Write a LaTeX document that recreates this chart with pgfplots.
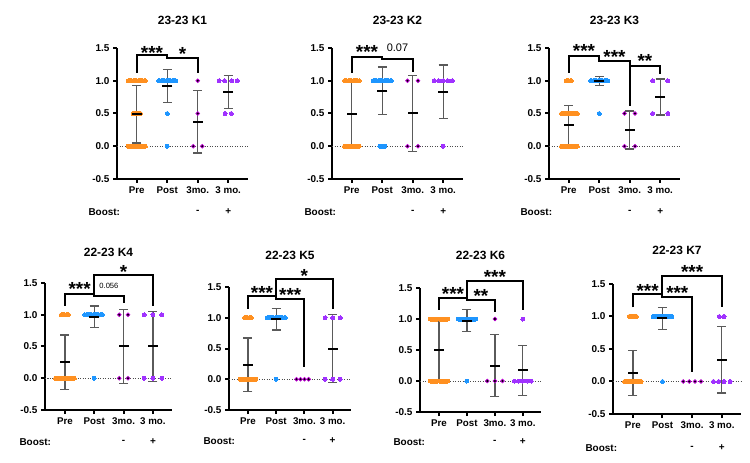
\documentclass[border=0pt]{standalone}
\usepackage{pgfplots}
\pgfplotsset{compat=1.18}
\usepackage{fontspec}
\setmainfont{Liberation Sans}
\definecolor{preC}{HTML}{FF9020}
\definecolor{postC}{HTML}{1E96FF}
\definecolor{mEdge}{HTML}{C000D8}
\definecolor{boostC}{HTML}{A032FF}
\definecolor{errC}{HTML}{5A5A5A}
\pgfplotsset{
 panel/.style={scale only axis, clip=false, ymin=-0.5, ymax=1.5, xmin=-0.65, xmax=3.65,
   ytick={-0.5,0,0.5,1,1.5}, xtick={0,1,2,3}, xticklabels={Pre,Post,3mo.,3 mo.},
   axis lines=left, axis line style={-, line width=2bp},
   tick align=outside, major tick length=4bp, tick style={line width=2bp, black},
   every tick label/.append style={font=\bfseries\fontsize{10}{10}\selectfont},
   xticklabel style={font=\bfseries\fontsize{9.8}{10}\selectfont},
   yticklabel style={/pgf/number format/.cd, fixed, fixed zerofill, precision=1, assume math mode=true},
 },
 pre/.style={only marks, color=preC, mark=*, mark size=2bp, mark options={draw=preC, fill=preC, line width=0pt}},
 post/.style={only marks, color=postC, mark=*, mark size=2bp, mark options={draw=postC, fill=postC, line width=0pt}},
 m3/.style={only marks, color=black, mark=*, mark size=1.9bp, mark options={draw=mEdge, fill=black, line width=0.7bp}},
 b3/.style={only marks, color=boostC, mark=*, mark size=2bp, mark options={draw=boostC, fill=boostC, line width=0pt}},
 meanbar/.style={only marks, color=black, mark=-, mark size=5bp, mark options={black, line width=2bp},
   error bars/.cd, y dir=both, y explicit, error mark=-,
   error mark options={rotate=90, mark size=4.5bp, line width=1.3bp, color=errC},
   error bar style={line width=1.3bp, color=errC}},
}
\tikzset{
 star/.style={font=\bfseries\fontsize{19}{19}\selectfont, inner sep=0, anchor=base, yshift=-10.5bp},
 brk/.style={line width=2bp, black},
}
\newcommand{\ptitle}[2]{\node[font=\bfseries\fontsize{12}{12}\selectfont, yshift=#2] at (rel axis cs:0.5,1) {#1};}
\newcommand{\zeroline}{\draw[line width=1bp, dash pattern=on 1.2bp off 1.3bp, black!70] (rel axis cs:0,0.25) -- (rel axis cs:1,0.25);}
\newcommand{\boostrow}[2]{%
 \node[anchor=west, font=\bfseries\fontsize{10}{10}\selectfont, xshift=#1, yshift=#2] at (rel axis cs:0,0) {Boost:};
 \node[font=\bfseries\fontsize{10}{10}\selectfont, yshift=#2] at (axis cs:2,-0.5) {-};
 \node[font=\bfseries\fontsize{10}{10}\selectfont, yshift=#2] at (axis cs:3,-0.5) {+};}
\begin{document}
\begin{tikzpicture}
\useasboundingbox (0,0) rectangle (750bp,463bp);
% ---------------- K1
\begin{axis}[panel, at={(117bp,284bp)}, anchor=south west, width=131bp, height=131bp]
\zeroline
\addplot[pre] coordinates {(-0.28,1)(-0.24,1)(-0.2,1)(-0.16,1)(-0.12,1)(-0.08,1)(-0.04,1)(0,1)(0.04,1)(0.08,1)(0.12,1)(0.16,1)(0.2,1)(0.24,1)(0.28,1)
(-0.12,0.5)(-0.08,0.5)(-0.04,0.5)(0,0.5)(0.04,0.5)(0.08,0.5)(0.12,0.5)
(-0.28,0)(-0.24,0)(-0.2,0)(-0.16,0)(-0.12,0)(-0.08,0)(-0.04,0)(0,0)(0.04,0)(0.08,0)(0.12,0)(0.16,0)(0.2,0)(0.24,0)(0.28,0)};
\addplot[post] coordinates {(0.72,1)(0.76,1)(0.8,1)(0.84,1)(0.88,1)(0.92,1)(0.96,1)(1,1)(1.04,1)(1.08,1)(1.12,1)(1.16,1)(1.2,1)(1.24,1)(1.28,1)(1,0.5)(1,0)};
\addplot[m3] coordinates {(2,1)(2,0.5)(1.85,0)(2.15,0)};
\addplot[b3] coordinates {(2.7,1)(2.88,1)(3.12,1)(3.3,1)(2.9,0.5)(3.1,0.5)};
\addplot[meanbar] coordinates {(0,0.49) +- (0,0.44) (1,0.92) +- (0,0.25) (2,0.375) +- (0,0.48) (3,0.83) +- (0,0.25)};
\draw[brk] (axis cs:0,1.12) |- (axis cs:1,1.39) -- (axis cs:1,1.35) -| (axis cs:2,1.12);
\node[star] at (axis cs:0.5,1.49) {***};
\node[star] at (axis cs:1.5,1.47) {*};
\ptitle{23-23 K1}{28bp}
\boostrow{-32bp}{-33bp}
\end{axis}
% ---------------- K2
\begin{axis}[panel, at={(332bp,284bp)}, anchor=south west, width=131bp, height=131bp]
\zeroline
\addplot[pre] coordinates {(-0.24,1)(-0.2,1)(-0.16,1)(-0.12,1)(-0.08,1)(-0.04,1)(0,1)(0.04,1)(0.08,1)(0.12,1)(0.16,1)(0.2,1)(0.24,1)
(-0.24,0)(-0.2,0)(-0.16,0)(-0.12,0)(-0.08,0)(-0.04,0)(0,0)(0.04,0)(0.08,0)(0.12,0)(0.16,0)(0.2,0)(0.24,0)};
\addplot[post] coordinates {(0.7,1)(0.74,1)(0.78,1)(0.82,1)(0.86,1)(0.9,1)(0.94,1)(0.98,1)(1.02,1)(1.06,1)(1.1,1)(1.14,1)(1.18,1)(1.22,1)(1.26,1)(1.3,1)
(0.92,0)(0.96,0)(1,0)(1.04,0)(1.08,0)};
\addplot[m3] coordinates {(1.83,1)(2.17,1)(1.83,0)(2.17,0)};
\addplot[b3] coordinates {(2.7,1)(2.85,1)(3,1)(3.15,1)(3.3,1)(3,0)};
\addplot[meanbar] coordinates {(0,0.49) +- (0,0.5) (1,0.845) +- (0,0.365) (2,0.5) +- (0,0.58) (3,0.83) +- (0,0.41)};
\draw[brk] (axis cs:0,1.12) |- (axis cs:1,1.37) -- (axis cs:1,1.33) -| (axis cs:2,1.14);
\node[star] at (axis cs:0.5,1.5) {***};
\node[font=\fontsize{11}{11}\selectfont] at (axis cs:1.5,1.5) {0.07};
\ptitle{23-23 K2}{28bp}
\boostrow{-31bp}{-33bp}
\end{axis}
% ---------------- K3
\begin{axis}[panel, at={(549bp,284bp)}, anchor=south west, width=131bp, height=131bp]
\zeroline
\addplot[pre] coordinates {(-0.08,1)(-0.04,1)(0,1)(0.04,1)(0.08,1)
(-0.24,0.5)(-0.2,0.5)(-0.16,0.5)(-0.12,0.5)(-0.08,0.5)(-0.04,0.5)(0,0.5)(0.04,0.5)(0.08,0.5)(0.12,0.5)(0.16,0.5)(0.2,0.5)(0.24,0.5)(0.28,0.5)
(-0.24,0)(-0.2,0)(-0.16,0)(-0.12,0)(-0.08,0)(-0.04,0)(0,0)(0.04,0)(0.08,0)(0.12,0)(0.16,0)(0.2,0)(0.24,0)(0.28,0)};
\addplot[post] coordinates {(0.72,1)(0.76,1)(0.8,1)(0.84,1)(0.88,1)(0.92,1)(0.96,1)(1,1)(1.04,1)(1.08,1)(1.12,1)(1.16,1)(1.2,1)(1.24,1)(1.28,1)(1,0.5)};
\addplot[m3] coordinates {(1.83,0.5)(2.17,0.5)(1.83,0)(2.17,0)};
\addplot[b3] coordinates {(2.75,1)(3.25,1)(2.75,0.5)(3.25,0.5)};
\addplot[meanbar] coordinates {(0,0.325) +- (0,0.295) (1,0.995) +- (0,0.065) (2,0.25) +- (0,0.29) (3,0.75) +- (0,0.275)};
\draw[brk] (axis cs:0,1.12) |- (axis cs:1,1.38) -- (axis cs:1,1.30) -| (axis cs:2,0.61);
\draw[brk] (axis cs:2,1.23) -| (axis cs:3,1.10);
\node[star] at (axis cs:0.5,1.51) {***};
\node[star] at (axis cs:1.5,1.42) {***};
\node[star] at (axis cs:2.5,1.37) {**};
\ptitle{23-23 K3}{28bp}
\boostrow{-32bp}{-33bp}
\end{axis}
% ---------------- K4
\begin{axis}[panel, at={(45bp,53bp)}, anchor=south west, width=127bp, height=127bp, xmin=-0.68]
\zeroline
\addplot[pre] coordinates {(-0.12,1)(-0.08,1)(-0.04,1)(0,1)(0.04,1)(0.08,1)(0.12,1)
(-0.32,0)(-0.28,0)(-0.24,0)(-0.2,0)(-0.16,0)(-0.12,0)(-0.08,0)(-0.04,0)(0,0)(0.04,0)(0.08,0)(0.12,0)(0.16,0)(0.2,0)(0.24,0)(0.28,0)(0.32,0)};
\addplot[post] coordinates {(0.68,1)(0.72,1)(0.76,1)(0.8,1)(0.84,1)(0.88,1)(0.92,1)(0.96,1)(1,1)(1.04,1)(1.08,1)(1.12,1)(1.16,1)(1.2,1)(1.24,1)(1.28,1)(1,0)};
\addplot[m3] coordinates {(1.85,1)(2.15,1)(1.85,0)(2.15,0)};
\addplot[b3] coordinates {(2.7,1)(3,1)(3.3,1)(2.7,0)(3,0)(3.3,0)};
\addplot[meanbar] coordinates {(0,0.25) +- (0,0.43) (1,0.97) +- (0,0.17) (2,0.5) +- (0,0.58) (3,0.5) +- (0,0.55)};
\draw[brk] (axis cs:0,1.14) |- (axis cs:1,1.33) -- (axis cs:1,1.29) -| (axis cs:2,1.18);
\draw[brk] (axis cs:1,1.33) |- (axis cs:3,1.62) -- (axis cs:3,1.14);
\node[star] at (axis cs:0.5,1.47) {***};
\node[font=\fontsize{7.6}{8}\selectfont] at (axis cs:1.5,1.45) {0.056};
\node[star] at (axis cs:2,1.74) {*};
\ptitle{22-23 K4}{31bp}
\boostrow{-29bp}{-32bp}
\end{axis}
% ---------------- K5
\begin{axis}[panel, at={(229bp,53bp)}, anchor=south west, width=122bp, height=123bp, xmin=-0.67]
\zeroline
\addplot[pre] coordinates {(-0.12,1)(-0.08,1)(-0.04,1)(0,1)(0.04,1)(0.08,1)(0.12,1)
(-0.28,0)(-0.24,0)(-0.2,0)(-0.16,0)(-0.12,0)(-0.08,0)(-0.04,0)(0,0)(0.04,0)(0.08,0)(0.12,0)(0.16,0)(0.2,0)(0.24,0)(0.28,0)};
\addplot[post] coordinates {(0.68,1)(0.72,1)(0.76,1)(0.8,1)(0.84,1)(0.88,1)(0.92,1)(0.96,1)(1,1)(1.04,1)(1.08,1)(1.12,1)(1.16,1)(1.2,1)(1.24,1)(1.28,1)(1.32,1)(1,0)};
\addplot[m3] coordinates {(1.72,0)(1.86,0)(2,0)(2.15,0)};
\addplot[b3] coordinates {(2.73,1)(3,1)(3.27,1)(2.73,0)(3,0)(3.27,0)};
\addplot[meanbar] coordinates {(0,0.235) +- (0,0.435) (1,0.975) +- (0,0.175) (3,0.5) +- (0,0.55)};
\draw[brk] (axis cs:0,1.15) |- (axis cs:1,1.35) -- (axis cs:1,1.30) -| (axis cs:2,0.2);
\draw[brk] (axis cs:1,1.35) |- (axis cs:3,1.63) -- (axis cs:3,1.15);
\node[star] at (axis cs:0.5,1.47) {***};
\node[star] at (axis cs:1.5,1.43) {***};
\node[star] at (axis cs:2,1.75) {*};
\ptitle{22-23 K5}{32bp}
\boostrow{-29bp}{-31bp}
\end{axis}
% ---------------- K6
\begin{axis}[panel, at={(420bp,51bp)}, anchor=south west, width=121bp, height=124bp, xmin=-0.68]
\zeroline
\addplot[pre] coordinates {(-0.32,1)(-0.28,1)(-0.24,1)(-0.2,1)(-0.16,1)(-0.12,1)(-0.08,1)(-0.04,1)(0,1)(0.04,1)(0.08,1)(0.12,1)(0.16,1)(0.2,1)(0.24,1)(0.28,1)(0.32,1)
(-0.32,0)(-0.28,0)(-0.24,0)(-0.2,0)(-0.16,0)(-0.12,0)(-0.08,0)(-0.04,0)(0,0)(0.04,0)(0.08,0)(0.12,0)(0.16,0)(0.2,0)(0.24,0)(0.28,0)(0.32,0)};
\addplot[post] coordinates {(0.68,1)(0.72,1)(0.76,1)(0.8,1)(0.84,1)(0.88,1)(0.92,1)(0.96,1)(1,1)(1.04,1)(1.08,1)(1.12,1)(1.16,1)(1.2,1)(1.24,1)(1.28,1)(1.32,1)(1,0)};
\addplot[m3] coordinates {(2,1)(1.73,0)(2,0)(2.27,0)};
\addplot[b3] coordinates {(3,1)(2.7,0)(2.85,0)(3,0)(3.15,0)(3.3,0)};
\addplot[meanbar] coordinates {(0,0.5) +- (0,0.5) (1,0.975) +- (0,0.175) (2,0.25) +- (0,0.5) (3,0.17) +- (0,0.405)};
\draw[brk] (axis cs:0,1.15) |- (axis cs:1,1.34) -- (axis cs:1,1.30) -| (axis cs:2,1.12);
\draw[brk] (axis cs:1,1.34) |- (axis cs:3,1.62) -- (axis cs:3,1.15);
\node[star] at (axis cs:0.5,1.47) {***};
\node[star] at (axis cs:1.5,1.43) {**};
\node[star] at (axis cs:2,1.75) {***};
\ptitle{22-23 K6}{33bp}
\boostrow{-30bp}{-30bp}
\end{axis}
% ---------------- K7
\begin{axis}[panel, at={(613bp,49bp)}, anchor=south west, width=128bp, height=130bp, xmin=-0.67]
\zeroline
\addplot[pre] coordinates {(-0.12,1)(-0.08,1)(-0.04,1)(0,1)(0.04,1)(0.08,1)(0.12,1)
(-0.28,0)(-0.24,0)(-0.2,0)(-0.16,0)(-0.12,0)(-0.08,0)(-0.04,0)(0,0)(0.04,0)(0.08,0)(0.12,0)(0.16,0)(0.2,0)(0.24,0)(0.28,0)};
\addplot[post] coordinates {(0.68,1)(0.72,1)(0.76,1)(0.8,1)(0.84,1)(0.88,1)(0.92,1)(0.96,1)(1,1)(1.04,1)(1.08,1)(1.12,1)(1.16,1)(1.2,1)(1.24,1)(1.28,1)(1.32,1)(1,0)};
\addplot[m3] coordinates {(1.7,0)(1.9,0)(2.1,0)(2.3,0)};
\addplot[b3] coordinates {(2.92,1)(3.08,1)(2.72,0)(2.9,0)(3.08,0)(3.28,0)};
\addplot[meanbar] coordinates {(0,0.135) +- (0,0.345) (1,0.97) +- (0,0.17) (3,0.335) +- (0,0.51)};
\draw[brk] (axis cs:0,1.14) |- (axis cs:1,1.34) -- (axis cs:1,1.30) -| (axis cs:2,0.15);
\draw[brk] (axis cs:1,1.34) |- (axis cs:3,1.62) -- (axis cs:3,1.14);
\node[star] at (axis cs:0.5,1.46) {***};
\node[star] at (axis cs:1.5,1.42) {***};
\node[star] at (axis cs:2,1.75) {***};
\ptitle{22-23 K7}{34bp}
\boostrow{-31bp}{-34bp}
\end{axis}
\end{tikzpicture}
\end{document}
